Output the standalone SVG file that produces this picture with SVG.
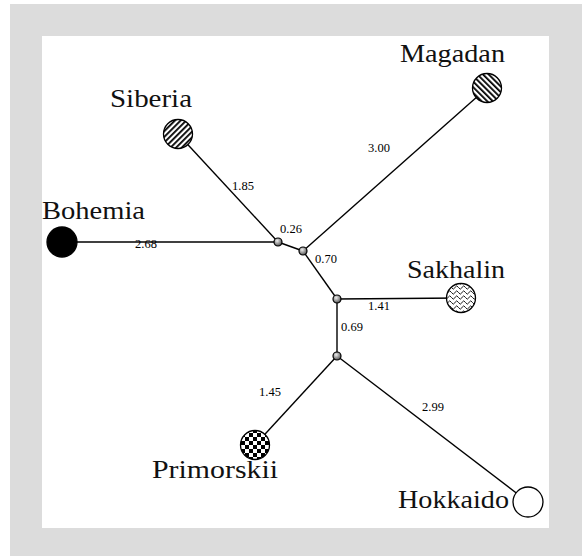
<svg xmlns="http://www.w3.org/2000/svg" width="582" height="556" viewBox="0 0 582 556">
<style>
.edge{stroke:#000;stroke-width:1.4;fill:none}
.leaf{stroke:#000;stroke-width:1.3}
.inner{stroke:#000;stroke-width:1.2;fill:url(#gball)}
.name{font-family:"Liberation Serif","DejaVu Serif",serif;font-size:26px;fill:#111}
.len{font-family:"Liberation Serif","DejaVu Serif",serif;font-size:12.5px;fill:#000}
</style>
<defs>
<radialGradient id="gball" cx="40%" cy="35%" r="65%">
<stop offset="0" stop-color="#eee"/><stop offset="1" stop-color="#555"/>
</radialGradient>
<pattern id="hatchNE" patternUnits="userSpaceOnUse" width="4" height="4" patternTransform="rotate(45)">
<rect width="4" height="4" fill="#fff"/><rect width="1.8" height="4" fill="#000"/>
</pattern>
<pattern id="hatchNW" patternUnits="userSpaceOnUse" width="4" height="4" patternTransform="rotate(-45)">
<rect width="4" height="4" fill="#fff"/><rect width="1.8" height="4" fill="#000"/>
</pattern>
<pattern id="waves" patternUnits="userSpaceOnUse" width="7" height="5">
<rect width="7" height="5" fill="#fff"/><path d="M0,2.5 L1.75,0.8 L3.5,2.5 L5.25,4.2 L7,2.5" stroke="#000" stroke-width="0.9" fill="none"/>
</pattern>
<pattern id="checker" patternUnits="userSpaceOnUse" width="8" height="8" x="1" y="1">
<rect width="8" height="8" fill="#fff"/><rect width="4" height="4" fill="#000"/><rect x="4" y="4" width="4" height="4" fill="#000"/>
</pattern>
</defs>
<rect x="10" y="4" width="572" height="552" fill="#dcdcdc"/>
<rect x="42" y="36" width="507" height="492" fill="#fff"/>
<g id="connectors">
<line class="edge" x1="62" y1="242" x2="278" y2="242"/>
<line class="edge" x1="178" y1="134" x2="278" y2="242"/>
<line class="edge" x1="278" y1="242" x2="303" y2="251"/>
<line class="edge" x1="303" y1="251" x2="487" y2="88"/>
<line class="edge" x1="303" y1="251" x2="337" y2="299"/>
<line class="edge" x1="337" y1="299" x2="461" y2="298"/>
<line class="edge" x1="337" y1="299" x2="337" y2="356"/>
<line class="edge" x1="337" y1="356" x2="255" y2="445"/>
<line class="edge" x1="337" y1="356" x2="528" y2="502"/>
<text class="len" x="146" y="248" text-anchor="middle">2.68</text>
<text class="len" x="243" y="190" text-anchor="middle">1.85</text>
<text class="len" x="291" y="233" text-anchor="middle">0.26</text>
<text class="len" x="379" y="152" text-anchor="middle">3.00</text>
<text class="len" x="326" y="263" text-anchor="middle">0.70</text>
<text class="len" x="379" y="310" text-anchor="middle">1.41</text>
<text class="len" x="352" y="331" text-anchor="middle">0.69</text>
<text class="len" x="270" y="396" text-anchor="middle">1.45</text>
<text class="len" x="433" y="411" text-anchor="middle">2.99</text>
</g>
<g id="n-inner1"><circle class="inner" cx="278" cy="242" r="4"/></g>
<g id="n-inner2"><circle class="inner" cx="303" cy="251" r="4"/></g>
<g id="n-inner3"><circle class="inner" cx="337" cy="299" r="4"/></g>
<g id="n-inner4"><circle class="inner" cx="337" cy="356" r="4"/></g>
<g id="bohemia"><circle class="leaf" cx="62" cy="242" r="15" fill="#000"/><text class="name" x="42" y="219" textLength="103" lengthAdjust="spacingAndGlyphs">Bohemia</text></g>
<g id="siberia"><circle class="leaf" cx="178" cy="134" r="14.5" fill="url(#hatchNE)"/><text class="name" x="110" y="107" textLength="82" lengthAdjust="spacingAndGlyphs">Siberia</text></g>
<g id="magadan"><circle class="leaf" cx="487" cy="88" r="14.5" fill="url(#hatchNW)"/><text class="name" x="400" y="62" textLength="105" lengthAdjust="spacingAndGlyphs">Magadan</text></g>
<g id="sakhalin"><circle class="leaf" cx="461" cy="298" r="14.5" fill="url(#waves)"/><text class="name" x="407" y="278" textLength="98" lengthAdjust="spacingAndGlyphs">Sakhalin</text></g>
<g id="primorskii"><circle class="leaf" cx="255" cy="445" r="14.5" fill="url(#checker)"/><text class="name" x="152" y="478" textLength="126" lengthAdjust="spacingAndGlyphs">Primorskii</text></g>
<g id="hokkaido"><circle class="leaf" cx="528" cy="502" r="15" fill="#fff"/><text class="name" x="398" y="508" textLength="111" lengthAdjust="spacingAndGlyphs">Hokkaido</text></g>
</svg>
